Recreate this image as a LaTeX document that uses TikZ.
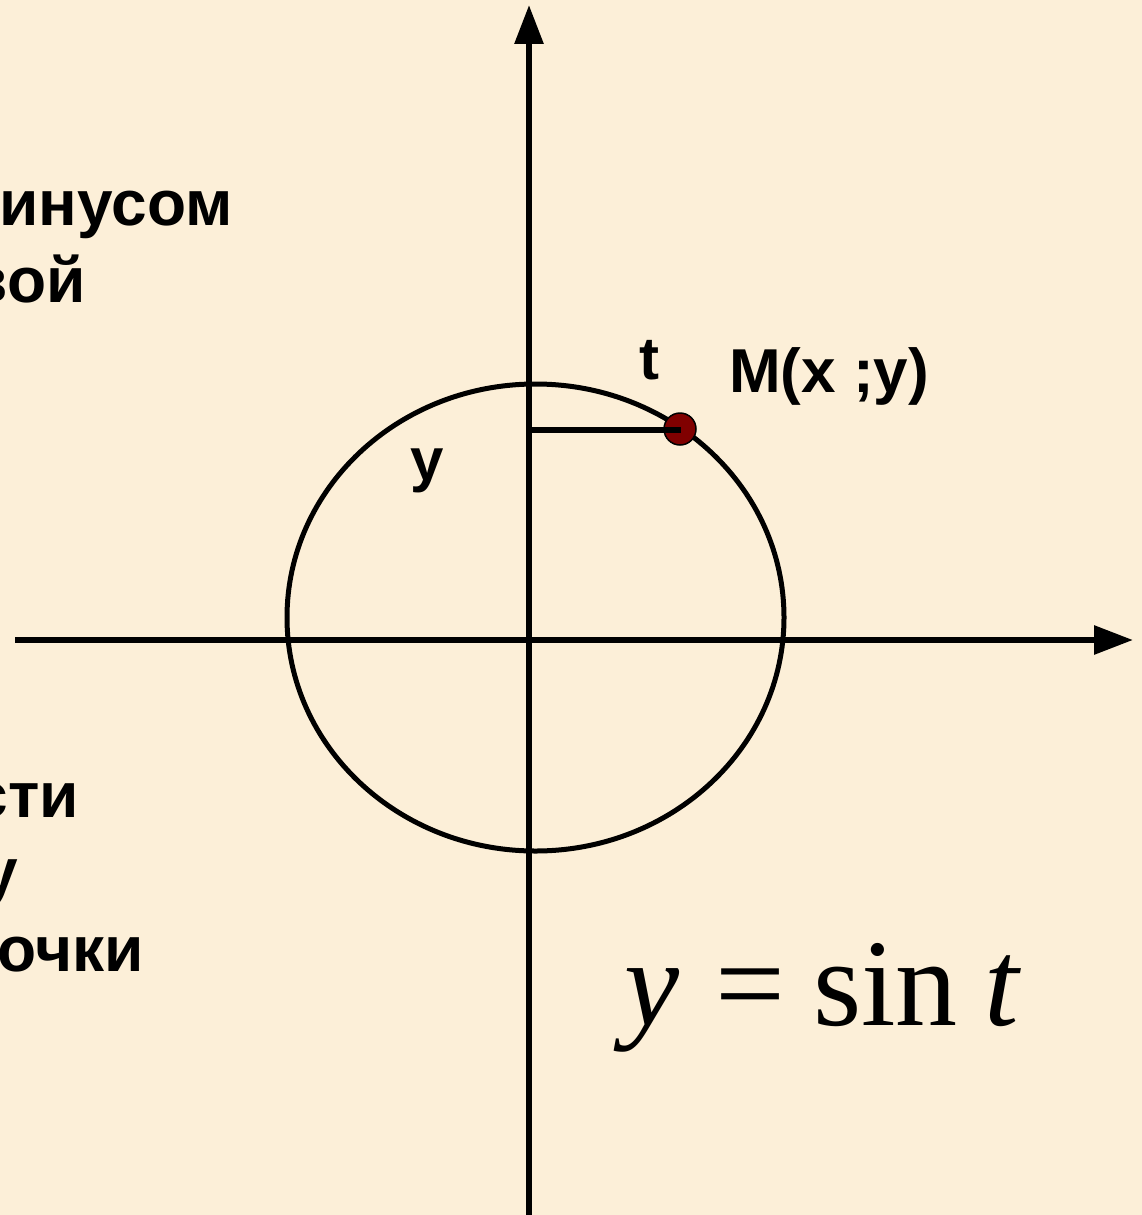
\documentclass[tikz,border=0pt]{standalone}
\usepackage{fontspec}
\setmainfont{Liberation Serif}
\setsansfont{Liberation Sans}
\usetikzlibrary{arrows.meta}
\definecolor{bgcream}{RGB}{252,239,216}
\definecolor{dotred}{RGB}{128,0,0}
\tikzset{
  axis/.style={line width=6pt,-{Triangle[length=39pt,width=28pt]}},
  curve/.style={line width=5pt},
  lbl/.style={font=\sffamily\bfseries\fontsize{60}{66}\selectfont,inner sep=0pt},
  sidetext/.style={font=\sffamily\bfseries\fontsize{64}{70}\selectfont,inner sep=0pt},
  formula/.style={font=\rmfamily\fontsize{124}{128}\selectfont,inner sep=0pt}
}
\begin{document}
\begin{tikzpicture}[x=1pt,y=-1pt]
\useasboundingbox (0,0) rectangle (1142,1215);
\fill[bgcream] (0,0) rectangle (1142,1215);
\clip (0,0) rectangle (1142,1215);
% axes
\coordinate (xs) at (15,640);
\coordinate (xe) at (1133,640);
\coordinate (ys) at (529,1218);
\coordinate (ye) at (529,5);
\draw[axis] (xs) -- (xe);
\draw[axis] (ys) -- (ye);
% unit circle (drawn as ellipse)
\coordinate (c) at (535.5,617.5);
\draw[curve] (c) ellipse [x radius=248.5, y radius=233.5];
% radius segment and point
\coordinate (oy) at (526,430);
\coordinate (mp) at (680,430);
\draw[line width=6.5pt] (oy) -- (mp);
\node[circle,fill=dotred,draw=black,line width=1.5pt,minimum size=32pt,inner sep=0pt] (M) at (680,429) {};
\fill[black] (662,426.75) rectangle (681,433.25);
% labels
\node[lbl,anchor=base west] (t) at (639,379) {t};
\node[lbl,font=\sffamily\bfseries\fontsize{62}{66}\selectfont,anchor=base west] (Mlbl) at (729,392) {M(x ;y)};
\node[lbl,anchor=base west] (ylbl) at (410,480) {y};
% side texts (cut at the left edge)
\node[sidetext,anchor=base east] (s1) at (233,225) {инусом};
\node[sidetext,anchor=base east] (s2) at (86,302) {вой};
\node[sidetext,anchor=base east] (s3) at (79,817) {сти};
\node[sidetext,anchor=base east] (s4) at (18,893) {у};
\node[sidetext,anchor=base east] (s5) at (144,971) {очки};
% formula
\node[formula,anchor=base west] (f) at (624,1025) {\textit{y}\hspace{36pt}=\hspace{28pt}sin\hspace{27pt}\textit{t}};
\end{tikzpicture}
\end{document}
